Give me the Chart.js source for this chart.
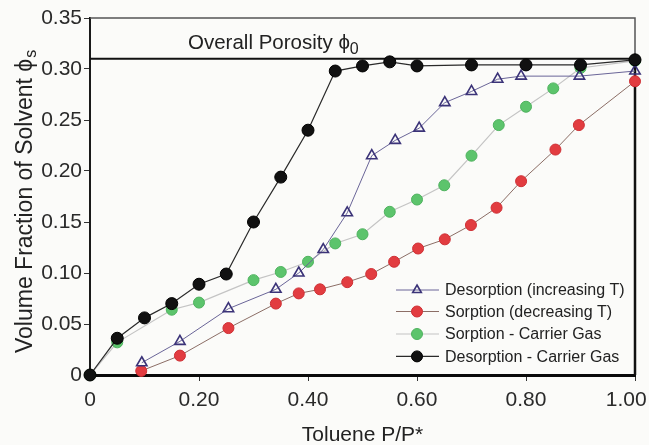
<!DOCTYPE html>
<html><head><meta charset="utf-8">
<script src="https://cdn.jsdelivr.net/npm/chart.js@4.4.0/dist/chart.umd.min.js"></script>
<style>html,body{margin:0;padding:0;background:#fbfbf9;}canvas{display:block;}</style>
</head><body>
<canvas id="c" width="649" height="445"></canvas>
<script>
// ---- data ----
const seriesNames = ['Desorption (increasing T)', 'Sorption (decreasing T)', 'Sorption - Carrier Gas', 'Desorption - Carrier Gas'];

const desIncT_x = [0.095, 0.165, 0.254, 0.341, 0.383, 0.428, 0.472, 0.517, 0.560, 0.604, 0.651, 0.700, 0.748, 0.791, 0.898, 1.00];
const desIncT_y = [0.012, 0.033, 0.065, 0.084, 0.100, 0.123, 0.159, 0.215, 0.230, 0.242, 0.267, 0.278, 0.290, 0.293, 0.293, 0.298];

const sorDecT_x = [0.094, 0.165, 0.254, 0.341, 0.383, 0.422, 0.472, 0.516, 0.558, 0.602, 0.651, 0.699, 0.746, 0.791, 0.854, 0.897, 1.00];
const sorDecT_y = [0.004, 0.019, 0.046, 0.070, 0.080, 0.084, 0.091, 0.099, 0.111, 0.124, 0.133, 0.147, 0.164, 0.190, 0.221, 0.245, 0.288];

const sorGas_x = [0, 0.05, 0.15, 0.20, 0.30, 0.35, 0.40, 0.45, 0.50, 0.55, 0.60, 0.65, 0.70, 0.75, 0.80, 0.85, 0.90, 1.00];
const sorGas_y = [0, 0.032, 0.064, 0.071, 0.093, 0.101, 0.111, 0.129, 0.138, 0.160, 0.172, 0.186, 0.215, 0.245, 0.263, 0.281, 0.301, 0.308];

const desGas_x = [0, 0.05, 0.10, 0.15, 0.20, 0.25, 0.30, 0.35, 0.40, 0.45, 0.50, 0.55, 0.60, 0.70, 0.80, 0.90, 1.00];
const desGas_y = [0, 0.036, 0.056, 0.070, 0.089, 0.099, 0.150, 0.194, 0.240, 0.298, 0.303, 0.307, 0.303, 0.304, 0.304, 0.304, 0.309];

const porosity = 0.31;
const porosityLabel = 'Overall Porosity ';
const porositySymbol = '\u03D5';
const porositySub = '0';

const xTicks = [0, 0.20, 0.40, 0.60, 0.80, 1.00];
const yTicks = [0, 0.05, 0.10, 0.15, 0.20, 0.25, 0.30, 0.35];
const xTitle = 'Toluene P/P*';
const yTitle = 'Volume Fraction of Solvent ';
const ySymbol = '\u03D5';
const ySub = 's';

// ---- helpers ----
const FONT = "'Liberation Sans', Arial, Helvetica, sans-serif";
const BG = '#fbfbf9';
function pts(xs, ys) { return xs.map((x, i) => ({ x: x, y: ys[i] })); }
function fmt(v) { return Math.abs(v) < 1e-9 ? '0' : v.toFixed(2); }
// last x label sits against the canvas edge in the reference: pad it so it stays visible
function fmtX(v) { return Math.abs(v - 1) < 1e-9 ? fmt(v) + '\u00A0\u00A0\u00A0' : fmt(v); }

const styles = [
  { pointStyle: 'triangle', radius: 6, fill: 'rgba(0,0,0,0)', stroke: '#3b3378', line: '#6a6598', lw: 1, pbw: 1.6 },
  { pointStyle: 'circle', radius: 5.5, fill: '#e23c40', stroke: '#cf3035', line: '#8c6e66', lw: 1, pbw: 1 },
  { pointStyle: 'circle', radius: 5.5, fill: '#5cc46c', stroke: '#4fb35f', line: '#c4c4c4', lw: 1.2, pbw: 1 },
  { pointStyle: 'circle', radius: 6, fill: '#111111', stroke: '#000000', line: '#2a2a2a', lw: 1.2, pbw: 1 }
];
const seriesData = [pts(desIncT_x, desIncT_y), pts(sorDecT_x, sorDecT_y), pts(sorGas_x, sorGas_y), pts(desGas_x, desGas_y)];
const drawOrder = [1, 2, 3, 0];

const datasets = seriesNames.map((name, i) => ({
  label: name,
  data: seriesData[i],
  showLine: true,
  borderColor: styles[i].line,
  borderWidth: styles[i].lw,
  pointStyle: styles[i].pointStyle,
  pointRadius: styles[i].radius,
  pointBackgroundColor: styles[i].fill,
  pointBorderColor: styles[i].stroke,
  pointBorderWidth: styles[i].pbw,
  tension: 0,
  clip: false,
  order: drawOrder[i]
}));
datasets.push({
  label: 'porosity',
  data: [{ x: 0, y: porosity }, { x: 1, y: porosity }],
  showLine: true,
  borderColor: '#111',
  borderWidth: 2,
  pointRadius: 0,
  clip: false,
  order: 6
});

const bgPlugin = {
  id: 'bg',
  beforeDraw(chart) {
    const ctx = chart.ctx;
    ctx.save(); ctx.fillStyle = BG; ctx.fillRect(0, 0, chart.width, chart.height); ctx.restore();
  }
};

const framePlugin = {
  id: 'frame',
  beforeDatasetsDraw(chart) {
    const { ctx, chartArea: a } = chart;
    const yp = chart.scales.y.getPixelForValue(porosity);
    ctx.save();
    ctx.strokeStyle = '#555'; ctx.lineWidth = 1.5;
    ctx.beginPath(); ctx.moveTo(a.left, a.top); ctx.lineTo(a.right, a.top); ctx.lineTo(a.right, yp); ctx.stroke();
    ctx.strokeStyle = '#111'; ctx.lineWidth = 2.5;
    ctx.beginPath(); ctx.moveTo(a.right, yp); ctx.lineTo(a.right, a.bottom); ctx.stroke();
    ctx.restore();
  }
};

const textPlugin = {
  id: 'texts',
  afterDraw(chart) {
    const { ctx, chartArea: a } = chart;
    ctx.save();
    // porosity annotation
    const yp = chart.scales.y.getPixelForValue(porosity);
    ctx.fillStyle = '#222';
    ctx.textBaseline = 'alphabetic';
    ctx.textAlign = 'left';
    ctx.font = '20.5px ' + FONT;
    let tx = a.left + 98, ty = yp - 10;
    ctx.fillText(porosityLabel, tx, ty);
    tx += ctx.measureText(porosityLabel).width;
    ctx.fillText(porositySymbol, tx, ty);
    tx += ctx.measureText(porositySymbol).width;
    ctx.font = '16px ' + FONT;
    ctx.fillText(porositySub, tx, ty + 5);

    // y axis title (rotated)
    ctx.save();
    ctx.translate(32, a.bottom - 22);
    ctx.rotate(-Math.PI / 2);
    ctx.font = '23px ' + FONT;
    ctx.fillStyle = '#222';
    ctx.fillText(yTitle, 0, 0);
    let w = ctx.measureText(yTitle).width;
    ctx.fillText(ySymbol, w, 0);
    w += ctx.measureText(ySymbol).width + 1;
    ctx.font = '16px ' + FONT;
    ctx.fillText(ySub, w, 4);
    ctx.restore();

    // legend
    const order = [0, 1, 2, 3];
    const rowY = [a.bottom - 85, a.bottom - 63.5, a.bottom - 41, a.bottom - 18.6];
    const x0 = a.right - 239, x1 = a.right - 196, xm = a.right - 218, xt = a.right - 190;
    order.forEach((i, r) => {
      const s = styles[i], y = rowY[r];
      ctx.strokeStyle = s.line; ctx.lineWidth = s.lw;
      ctx.beginPath(); ctx.moveTo(x0, y); ctx.lineTo(x1, y); ctx.stroke();
      ctx.fillStyle = s.fill; ctx.strokeStyle = s.stroke; ctx.lineWidth = s.pbw;
      Chart.helpers.drawPoint(ctx, { pointStyle: s.pointStyle, radius: s.pointStyle === 'triangle' ? 5 : 5.5, rotation: 0, borderWidth: s.pbw }, xm, y);
      ctx.fillStyle = '#222';
      ctx.font = '16px ' + FONT;
      ctx.textBaseline = 'middle';
      ctx.fillText(seriesNames[i], xt, y + 1);
    });
    ctx.restore();
  }
};

new Chart(document.getElementById('c'), {
  type: 'scatter',
  data: { datasets: datasets },
  plugins: [bgPlugin, framePlugin, textPlugin],
  options: {
    responsive: false,
    animation: false,
    devicePixelRatio: 1,
    layout: { padding: { top: 18, right: 14, left: 0, bottom: 0 } },
    plugins: { legend: { display: false }, tooltip: { enabled: false } },
    scales: {
      x: {
        type: 'linear', min: 0, max: 1,
        afterBuildTicks(s) { s.ticks = xTicks.map(v => ({ value: v })); },
        afterFit(s) { s.height = 70; s.paddingLeft = 0; s.paddingRight = 0; },
        ticks: { callback: v => fmtX(v), font: { family: FONT, size: 21 }, color: '#2a2a2a', padding: 7, maxRotation: 0, autoSkip: false },
        grid: { drawOnChartArea: false, drawTicks: true, tickLength: 6, color: '#333', tickWidth: 1 },
        border: { display: true, color: '#0a0a0a', width: 3 },
        title: { display: true, text: xTitle, font: { family: FONT, size: 21 }, color: '#222', padding: { top: 0, bottom: -3 } }
      },
      y: {
        type: 'linear', min: 0, max: 0.35,
        afterBuildTicks(s) { s.ticks = yTicks.map(v => ({ value: v })); },
        afterFit(s) { s.width = 90; s.paddingTop = 0; s.paddingBottom = 0; },
        ticks: { callback: v => fmt(v), font: { family: FONT, size: 21 }, color: '#2a2a2a', padding: 2, autoSkip: false },
        grid: { drawOnChartArea: false, drawTicks: true, tickLength: 6, color: '#333', tickWidth: 1 },
        border: { display: true, color: '#1a1a1a', width: 2 }
      }
    }
  }
});
</script>
</body></html>
